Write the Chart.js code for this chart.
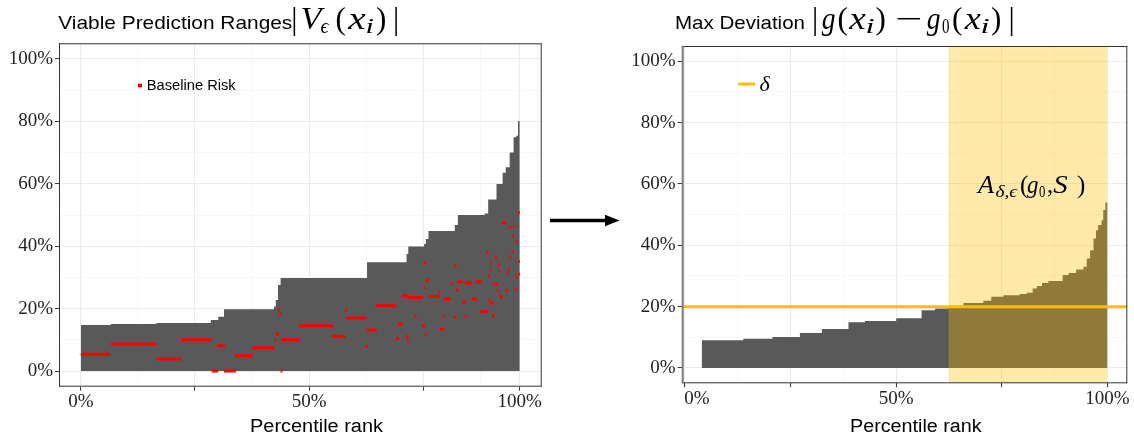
<!DOCTYPE html>
<html><head><meta charset="utf-8">
<script src="https://cdn.jsdelivr.net/npm/chart.js@4.4.0/dist/chart.umd.min.js"></script>
<style>
html,body{margin:0;padding:0;background:#fff;}
#wrap{position:relative;width:1134px;height:438px;overflow:hidden;}
canvas{position:absolute;left:0;top:0;}
</style></head><body>
<div id="wrap"><canvas id="c1" width="1134" height="438"></canvas><canvas id="c2" width="1134" height="438"></canvas></div>
<script>
// ---------- DATA ----------
// Left panel: viable prediction range width, step function (rank %, value %)
const leftStepStart = [0, 6.8, 17.2, 29.6, 31.3, 32.6, 44.0, 44.4, 44.9, 45.5, 65.2, 74.2, 74.6, 78.2, 78.6, 79.2, 85.2, 85.9, 92.0, 92.8, 94.7, 96.1, 96.8, 97.7, 98.6, 99.2, 99.6];
const leftStepValue = [14.8, 15.1, 15.4, 16.4, 17.4, 19.8, 20.7, 22.8, 27.6, 29.8, 34.9, 37.5, 39.9, 40.7, 42.3, 44.9, 46.8, 50.0, 50.5, 55.0, 59.9, 63.5, 65.3, 70.0, 74.9, 75.4, 80.1];
const leftStepEnd = 100;
// Baseline risk marks (rank % start, rank % end, risk %)
const riskStart = [0, 6.8, 17.2, 22.9, 29.8, 31.0, 32.6, 35.1, 39.0, 44.0, 44.4, 44.9, 45.2, 45.5, 45.7, 49.7, 57.2, 60.1, 60.4, 64.9, 65.2, 67.1, 71.8, 72.3, 73.1, 74.0, 74.3, 74.6, 76.1, 77.7, 78.0, 78.3, 78.1, 78.6, 79.1, 81.5, 81.8, 82.6, 82.9, 84.3, 85.0, 85.2, 85.4, 85.8, 86.9, 87.4, 87.5, 89.0, 90.1, 91.1, 92.4, 92.8, 92.8, 93.2, 93.2, 93.5, 93.7, 93.9, 94.3, 94.5, 94.8, 95.0, 95.3, 95.3, 95.6, 95.8, 96.8, 97.0, 97.3, 97.6, 97.7, 98.1, 98.2, 98.6, 98.9, 99.2, 99.2, 99.6, 99.7, 99.6];
const riskEnd   = [6.8, 17.2, 22.9, 29.8, 31.3, 32.8, 35.3, 39.2, 44.2, 44.6, 45.2, 45.3, 45.7, 45.9, 49.9, 57.5, 60.3, 60.7, 65.2, 65.3, 67.4, 71.9, 72.5, 73.4, 74.6, 74.6, 74.7, 78.0, 76.5, 78.4, 78.7, 78.7, 78.5, 79.3, 81.8, 81.9, 82.9, 83.0, 84.4, 84.7, 85.6, 85.6, 86.1, 87.1, 87.7, 87.9, 89.2, 90.3, 91.3, 92.8, 92.9, 93.3, 93.2, 93.5, 93.5, 94.1, 94.3, 94.3, 94.8, 95.1, 95.1, 95.4, 95.6, 95.6, 96.1, 97.0, 97.3, 97.3, 97.7, 98.1, 98.1, 98.5, 98.6, 99.0, 99.4, 99.6, 99.6, 100, 100, 100];
const riskValue = [5.4, 8.7, 3.9, 10.0, 0, 8.1, 0, 4.9, 7.5, 9.9, 11.9, 19.6, 18.2, 0, 10.0, 14.5, 11.1, 19.4, 17.0, 7.9, 13.2, 20.9, 10.4, 15.0, 24.1, 11.1, 9.8, 23.6, 17.7, 14.5, 34.6, 11.6, 26.6, 29.0, 23.9, 25.3, 13.4, 17.3, 23.0, 28.2, 17.3, 33.7, 26.0, 28.6, 22.1, 17.5, 28.2, 23.1, 28.6, 19.1, 38.0, 22.5, 30.3, 34.6, 32.4, 21.8, 17.7, 27.8, 36.2, 27.8, 25.7, 34.0, 31.9, 24.4, 23.7, 47.5, 25.8, 31.4, 32.7, 46.1, 36.2, 38.1, 43.2, 46.3, 26.2, 41.3, 30.1, 31.1, 35.1, 50.8];
// Right panel: max deviation, step function (rank %, value %)
const rightStepStart = [3.95, 13.8, 20.7, 27.2, 32.4, 38.7, 42.6, 50.0, 56.0, 59.2, 62.4, 65.9, 70.6, 72.5, 75.4, 79.2, 80.9, 82.3, 83.3, 84.5, 86.0, 89.4, 90.8, 92.6, 94.3, 95.1, 95.9, 96.7, 97.3, 97.8, 98.6, 99.0, 99.5];
const rightStepValue = [9.0, 9.5, 10.1, 11.4, 12.7, 14.9, 15.3, 16.2, 18.8, 19.4, 20.3, 21.2, 21.9, 23.2, 23.7, 24.1, 24.5, 25.9, 26.7, 27.7, 28.4, 30.3, 31.0, 32.1, 33.0, 35.7, 38.4, 42.2, 44.9, 46.6, 48.2, 51.5, 54.0];
const rightStepEnd = 100;
const deltaValue = 20;      // delta threshold (%)
const shadeStart = 62.35;   // start of A_{delta,eps} region (rank %)
const shadeEnd = 100;
// Axis ranges
const yMin = -5, yMax = 105;
const leftXMin = -5, leftXMax = 105;
const rightXMin = -0.78, rightXMax = 104.7;
// Tick definitions
const yTickValues = [0, 10, 20, 30, 40, 50, 60, 70, 80, 90, 100];
const yTickLabels = ['0%', '', '20%', '', '40%', '', '60%', '', '80%', '', '100%'];
const yTickKind   = ['M', 'm', 'M', 'm', 'M', 'm', 'M', 'm', 'M', 'm', 'M'];
const leftXTickValues = [0, 13, 26, 39, 52, 65, 78, 91, 100, 104];
const leftXTickLabels = ['0%', '', '', '', '50%', '', '', '', '100%', ''];
const leftXTickKind   = ['M', 'm', 'M', 'm', 'M', 'm', 'M', 'm', 'M', 'm'];
const rightXTickValues = [0, 2.8, 12.5, 25, 37.5, 50, 62.5, 75, 87.5, 100];
const rightXTickLabels = ['', '0%', '', '', '', '50%', '', '', '', '100%'];
const rightXTickKind   = ['M', 'L', 'm', 'M', 'm', 'M', 'm', 'M', 'm', 'M'];

// ---------- HELPERS ----------
const SERIF = '"Liberation Serif", "DejaVu Serif", serif';
const SANS = '"Liberation Sans", Arial, sans-serif';
function gridColor(kinds){ return c => kinds[c.index] === 'M' ? '#EBEBEB' : (kinds[c.index] === 'm' ? '#F3F3F3' : 'rgba(0,0,0,0)'); }
function gridWidth(kinds){ return c => kinds[c.index] === 'M' ? 1.1 : 0.7; }
function tickMarkColor(kinds){ return c => kinds[c.index] === 'M' ? '#333333' : 'rgba(0,0,0,0)'; }
function xAxis(min, max, values, labels, kinds, height){
  return {
    type: 'linear', min, max,
    afterBuildTicks: s => { s.ticks = values.map(v => ({value: v})); },
    afterFit: s => { s.height = height; },
    ticks: { autoSkip: false, maxRotation: 0, padding: 0, color: '#222', font: {family: SERIF, size: 19}, callback: (v, i) => labels[i] },
    grid: { color: gridColor(kinds), lineWidth: gridWidth(kinds), tickLength: 4, tickColor: tickMarkColor(kinds), tickWidth: 1 },
    border: { display: false }
  };
}
function yAxis(width){
  return {
    type: 'linear', min: yMin, max: yMax,
    afterBuildTicks: s => { s.ticks = yTickValues.map(v => ({value: v})); },
    afterFit: s => { s.width = width; },
    ticks: { autoSkip: false, padding: 2, color: '#222', font: {family: SERIF, size: 19}, callback: (v, i) => yTickLabels[i] },
    grid: { color: gridColor(yTickKind), lineWidth: gridWidth(yTickKind), tickLength: 4, tickColor: tickMarkColor(yTickKind), tickWidth: 1 },
    border: { display: false }
  };
}
function stepPoints(starts, values, end){
  const pts = starts.map((x, i) => ({x, y: values[i]}));
  pts.push({x: end, y: values[values.length - 1]});
  return pts;
}
function txt(ctx, s, x, y, font, opts){
  opts = opts || {};
  ctx.save();
  ctx.font = font; ctx.fillStyle = opts.color || '#000';
  ctx.textBaseline = 'alphabetic'; ctx.textAlign = 'left';
  const w = ctx.measureText(s).width;
  const sx = opts.width ? opts.width / w : 1;
  ctx.translate(x, y); ctx.scale(sx, 1); ctx.fillText(s, 0, 0);
  ctx.restore();
}
// place glyph so that its ink spans [L, R] (R null: natural width, ink starts at L)
function glyph(ctx, s, L, R, y, font){
  ctx.save();
  ctx.font = font; ctx.fillStyle = '#000';
  ctx.textBaseline = 'alphabetic'; ctx.textAlign = 'left';
  const m = ctx.measureText(s);
  const bl = m.actualBoundingBoxLeft, br = m.actualBoundingBoxRight;
  const ink = bl + br;
  const sx = (R == null || ink <= 0) ? 1 : (R - L) / ink;
  ctx.translate(L + sx * bl, y); ctx.scale(sx, 1); ctx.fillText(s, 0, 0);
  ctx.restore();
}
function mathPieces(ctx, pieces, base, size, subSize, subDrop){
  pieces.forEach(p => {
    const [s, L, R, it, sub] = p;
    const f = (it ? 'italic ' : '') + (sub ? subSize : size) + 'px ' + SERIF;
    glyph(ctx, s, L, R, base + (sub ? subDrop : 0), f);
  });
}
function panelBorder(ctx, a, leftColor, leftWidth){
  ctx.save();
  ctx.strokeStyle = '#333'; ctx.lineWidth = 1;
  ctx.beginPath();
  ctx.moveTo(a.left, a.top + 0.5); ctx.lineTo(a.right, a.top + 0.5);
  ctx.moveTo(a.right - 0.5, a.top); ctx.lineTo(a.right - 0.5, a.bottom);
  ctx.moveTo(a.left, a.bottom - 0.5); ctx.lineTo(a.right, a.bottom - 0.5);
  ctx.stroke();
  ctx.strokeStyle = leftColor; ctx.lineWidth = leftWidth;
  ctx.beginPath(); ctx.moveTo(a.left + leftWidth / 2, a.top); ctx.lineTo(a.left + leftWidth / 2, a.bottom); ctx.stroke();
  ctx.restore();
}

// ---------- LEFT CHART ----------
const riskPts = [];
riskStart.forEach((s, i) => {
  riskPts.push({x: s, y: riskValue[i]}, {x: riskEnd[i], y: riskValue[i]}, {x: riskEnd[i], y: null});
});

const decorLeft = {
  id: 'decorLeft',
  afterDraw(chart){
    const ctx = chart.ctx, a = chart.chartArea;
    panelBorder(ctx, a, '#333', 1);
    // title
    txt(ctx, 'Viable Prediction Ranges', 58.3, 28.5, '19px ' + SANS, {width: 234, color: '#000'});
    mathPieces(ctx, [['|', 293.3, null], ['V', 301.7, 325, true], ['\u03F5', 320.5, 329.5, true, true], ['(', 336.5, null], ['x', 347, 366, true], ['i', 367, 373, true, true], [')', 377, null], ['|', 395, null]], 28.5, 31, 20, 4.5);
    // legend
    ctx.save(); ctx.fillStyle = '#FF0000'; ctx.fillRect(138, 83.7, 4, 3.7); ctx.restore();
    txt(ctx, 'Baseline Risk', 146.7, 89.5, '14px ' + SANS, {width: 89, color: '#000'});
    // axis title
    txt(ctx, 'Percentile rank', 250, 431.7, '18px ' + SANS, {width: 133, color: '#000'});
    // arrow between panels
    ctx.save();
    ctx.strokeStyle = '#000'; ctx.fillStyle = '#000'; ctx.lineWidth = 3.3;
    ctx.beginPath(); ctx.moveTo(550, 220.5); ctx.lineTo(608, 220.5); ctx.stroke();
    ctx.beginPath(); ctx.moveTo(605, 214.8); ctx.lineTo(619.5, 220.5); ctx.lineTo(605, 226.2); ctx.closePath(); ctx.fill();
    ctx.restore();
  }
};

new Chart(document.getElementById('c1'), {
  type: 'line',
  data: { datasets: [
    { data: riskPts, borderColor: '#FF0000', borderWidth: 3, borderCapStyle: 'butt', pointRadius: 0, spanGaps: false, fill: false, order: 1 },
    { data: stepPoints(leftStepStart, leftStepValue, leftStepEnd), stepped: 'before', fill: 'origin', backgroundColor: '#595959', borderColor: 'rgba(0,0,0,0)', borderWidth: 0, pointRadius: 0, order: 2 }
  ]},
  options: {
    responsive: false, animation: false, events: [],
    layout: { padding: { left: 0, top: 43.3, right: 1134 - 541.7, bottom: 0 } },
    plugins: { legend: { display: false }, tooltip: { enabled: false } },
    scales: {
      x: xAxis(leftXMin, leftXMax, leftXTickValues, leftXTickLabels, leftXTickKind, 438 - 386.7),
      y: yAxis(59)
    }
  },
  plugins: [decorLeft]
});

// ---------- RIGHT CHART ----------
const decorRight = {
  id: 'decorRight',
  afterDraw(chart){
    const ctx = chart.ctx, a = chart.chartArea;
    panelBorder(ctx, a, '#7A7A7A', 2);
    txt(ctx, 'Max Deviation', 675, 28.5, '19px ' + SANS, {width: 130, color: '#000'});
    mathPieces(ctx, [['|', 814, null], ['g', 821.7, 835, true], ['(', 838.5, null], ['x', 848, 866, true], ['i', 867, 873.5, true, true], [')', 876.5, null], ['\u2212', 896.7, 920], ['g', 926.7, 940, true], ['0', 942, 949.5, false, true], ['(', 953, null], ['x', 963.5, 981, true], ['i', 982, 988.5, true, true], [')', 992, null], ['|', 1010.5, null]], 28.5, 31, 20, 4.5);
    // delta legend
    ctx.save(); ctx.strokeStyle = '#FFBF00'; ctx.lineWidth = 3;
    ctx.beginPath(); ctx.moveTo(738.3, 84); ctx.lineTo(755, 84); ctx.stroke(); ctx.restore();
    txt(ctx, '\u03B4', 759.5, 90.5, 'italic 22px ' + SERIF, {color: '#000'});
    // region annotation
    mathPieces(ctx, [['A', 976, 995, true], ['\u03B4,\u03F5', 995.5, 1018.5, true, true], ['(', 1021, null], ['g', 1027, 1038, true], ['0', 1039, 1045, false, true], [',', 1047, null], ['S', 1053.3, 1068.3, true], [')', 1077, null]], 192.7, 25, 17, 4);
    txt(ctx, 'Percentile rank', 850, 431.7, '18px ' + SANS, {width: 131.7, color: '#000'});
  }
};

new Chart(document.getElementById('c2'), {
  type: 'line',
  data: { datasets: [
    { data: [{x: rightXMin, y: deltaValue}, {x: rightXMax, y: deltaValue}], borderColor: '#FFBF00', borderWidth: 3, pointRadius: 0, fill: false, order: 1 },
    { data: [{x: shadeStart, y: yMax}, {x: shadeEnd, y: yMax}], fill: {value: yMin}, backgroundColor: 'rgba(255,191,0,0.33)', borderColor: 'rgba(0,0,0,0)', borderWidth: 0, pointRadius: 0, order: 2 },
    { data: stepPoints(rightStepStart, rightStepValue, rightStepEnd), stepped: 'before', fill: 'origin', backgroundColor: '#595959', borderColor: 'rgba(0,0,0,0)', borderWidth: 0, pointRadius: 0, order: 3 }
  ]},
  options: {
    responsive: false, animation: false, events: [],
    layout: { padding: { left: 681.7 - 60, top: 46, right: 1134 - 1127.3, bottom: 0 } },
    plugins: { legend: { display: false }, tooltip: { enabled: false } },
    scales: {
      x: xAxis(rightXMin, rightXMax, rightXTickValues, rightXTickLabels, rightXTickKind, 438 - 383.3),
      y: yAxis(60)
    }
  },
  plugins: [decorRight]
});
</script>
</body></html>
